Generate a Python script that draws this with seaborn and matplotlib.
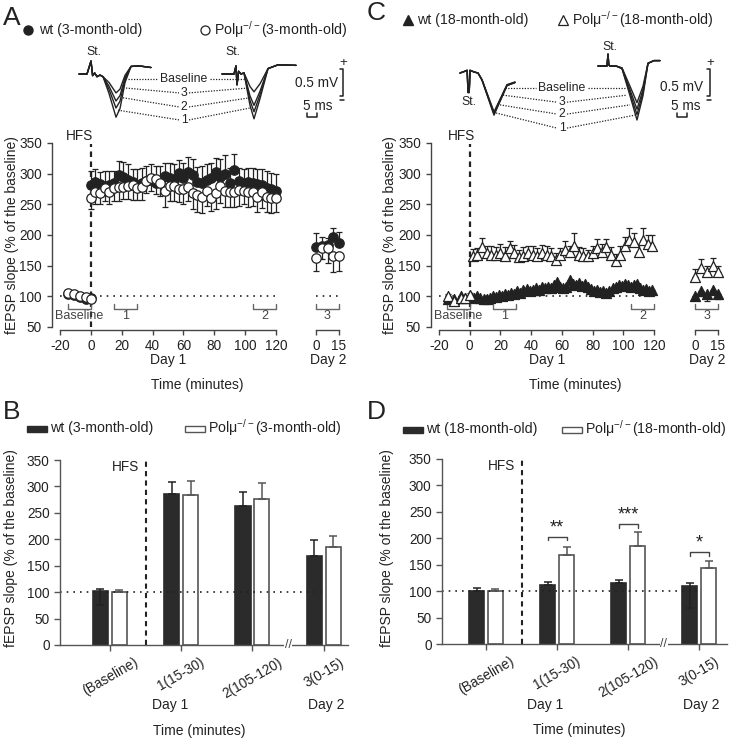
import matplotlib
matplotlib.use('Agg')
import matplotlib.pyplot as plt
import matplotlib.transforms as mtransforms
from matplotlib.patches import Rectangle
import pandas as pd
import seaborn as sns

sns.set_theme(style='ticks')
plt.rcParams['font.family'] = ['Liberation Sans', 'DejaVu Sans']
plt.rcParams['mathtext.fontset'] = 'custom'
plt.rcParams['mathtext.rm'] = 'Liberation Sans'
plt.rcParams['mathtext.default'] = 'regular'
plt.rcParams['axes.unicode_minus'] = False
plt.rcParams['font.size'] = 9.5

INK = '#222222'
GREY = '#555555'

# ---------------- data: panel A (3-month-old time course) ----------------
a_base_t = [-15, -11, -7, -3, 0]
a_wt_base = [103, 102, 99, 95, 97]
a_ko_base = [105, 104, 101, 99, 96]
a_base_err = [3, 3, 3, 3, 3]
a_t = list(range(0, 121, 3))
a_wt = [281, 286, 283, 279, 282, 284, 298, 295, 290, 286,
        281, 284, 288, 290, 285, 287, 296, 293, 289, 301,
        293, 302, 298, 287, 285, 289, 293, 303, 294, 300,
        284, 306, 288, 283, 287, 285, 283, 281, 277, 275, 272]
a_wt_err = [24, 22, 20, 26, 22, 20, 22, 24, 25, 22,
            26, 25, 24, 26, 28, 25, 22, 24, 26, 22,
            24, 25, 26, 24, 28, 26, 24, 22, 30, 30,
            26, 26, 22, 24, 22, 25, 24, 26, 28, 26, 28]
a_ko = [260, 270, 268, 277, 270, 276, 278, 279, 280, 281,
        277, 279, 288, 293, 291, 285, 272, 280, 280, 275,
        275, 278, 268, 265, 262, 271, 261, 268, 280, 271,
        270, 270, 273, 272, 270, 270, 262, 270, 262, 260, 261]
a_ko_err = [18, 20, 18, 22, 20, 20, 22, 20, 22, 24,
            20, 22, 20, 22, 24, 22, 26, 24, 25, 22,
            24, 22, 25, 28, 26, 24, 22, 25, 28, 26,
            24, 24, 25, 22, 24, 22, 24, 26, 25, 24, 24]
a_d2_t = [0, 4, 7.5, 11, 15]
a_d2_wt = [180, 182, 183, 196, 187]
a_d2_wt_err = [23, 14, 12, 16, 18]
a_d2_ko = [163, 179, 179, 165, 165]
a_d2_ko_err = [22, 18, 24, 26, 24]

# ---------------- data: panel C (18-month-old time course) ----------------
c_base_t = [-14, -10, -6, -3, 0]
c_wt_base = [96, 95, 100, 97, 99]
c_ko_base = [101, 93, 98, 97, 102]
c_base_err = [3, 3, 3, 3, 3]
c_ko_t = list(range(2, 120, 3))
c_ko = [165, 168, 180, 170, 168, 168, 170, 166, 178, 170,
        164, 166, 170, 168, 166, 170, 168, 166, 160, 168,
        176, 172, 182, 168, 165, 166, 170, 178, 172, 180,
        168, 157, 168, 182, 192, 188, 172, 192, 185, 182]
c_ko_err = [12, 10, 15, 12, 14, 12, 15, 14, 12, 13,
            12, 14, 12, 14, 12, 13, 14, 12, 11, 10,
            14, 10, 22, 12, 13, 10, 12, 15, 14, 13,
            12, 12, 14, 15, 20, 16, 14, 20, 15, 18]
c_wt_t = list(range(1, 120, 2))
c_wt = [99, 98, 100, 97, 95, 96, 98, 100, 99, 102,
        101, 103, 102, 105, 104, 108, 106, 110, 112, 108,
        110, 113, 111, 115, 113, 116, 114, 118, 124, 116,
        113, 115, 126, 120, 118, 121, 117, 120, 115, 112,
        108, 110, 107, 109, 106, 108, 113, 116, 119, 117,
        120, 118, 115, 118, 120, 114, 110, 112, 108, 111]
c_wt_err = [5, 4, 6, 5, 4, 5, 6, 5, 4, 5,
            6, 5, 4, 6, 5, 7, 5, 6, 5, 6,
            5, 6, 5, 7, 6, 5, 6, 7, 8, 6,
            5, 6, 8, 7, 6, 5, 6, 7, 5, 6,
            5, 6, 5, 4, 5, 6, 5, 7, 6, 5,
            6, 5, 6, 7, 6, 5, 6, 5, 6, 5]
c_d2_t = [0, 4, 8, 12, 15]
c_d2_wt = [101, 108, 103, 111, 104]
c_d2_wt_err = [6, 8, 10, 7, 8]
c_d2_ko = [131, 146, 140, 149, 140]
c_d2_ko_err = [13, 15, 9, 13, 10]

# ---------------- data: panels B and D (bar summaries) ----------------
groups = ['(Baseline)', '1(15-30)', '2(105-120)', '3(0-15)']
b_wt = [102, 286, 263, 169]
b_wt_up = [4, 23, 27, 29]
b_wt_dn = [27, 0, 0, 0]
b_ko = [101, 284, 277, 186]
b_ko_up = [4, 27, 29, 21]
d_wt = [101, 112, 115, 110]
d_wt_up = [5, 6, 6, 6]
d_wt_dn = [0, 0, 0, 41]
d_ko = [100, 168, 186, 143]
d_ko_up = [4, 16, 25, 14]
d_sig = ['', '**', '***', '*']
d_sig_y = [0, 203, 227, 174]

# ---------------- example traces (ms, mV): waypoints + scaled dip ----------------
trA_wt_t = [0, 4, 6, 6.8, 7.8, 9, 10.5, 12, 15, 18.5, 20.5, 23, 26, 30, 36]
trA_wt_base = [0, 0, 0.24, -0.03, 0.02, -0.05, -0.02, -0.05, 0, 0, 0, 0.08, 0.14, 0.15, 0.12]
trA_wt_dip = [0, 0, 0, 0, 0, 0, 0, 0, -0.45, -1.0, -0.8, -0.3, 0, 0, 0]
trA_wt_depth = [0.35, 0.5, 0.63, 0.8]
trA_ko_t = [0, 6, 7, 7.5, 8.3, 9.5, 11, 14, 16, 19, 23, 28, 37]
trA_ko_base = [0, 0, 0.15, -0.2, 0.05, 0, 0.02, 0, 0, 0, 0.1, 0.17, 0.16]
trA_ko_dip = [0, 0, 0, 0, 0, 0, 0, -0.7, -1.0, -0.55, 0, 0, 0]
trA_ko_depth = [0.33, 0.58, 0.7, 0.83]
trC_wt_t = [0, 3, 3.6, 4.0, 4.6, 5.0, 7, 9, 11, 17, 23.5, 27.5]
trC_wt_base = [0, 0.04, 0.05, -0.36, -0.36, 0.05, 0.02, 0, 0, 0, 0, 0]
trC_wt_dip = [0, 0, 0, 0, 0, 0, 0, 0, -0.17, -1.0, -0.3, -0.23]
trC_wt_depth = [0.72, 0.74, 0.76, 0.78]
trC_ko_t = [0, 4.5, 5, 5.4, 6, 9, 12, 16, 19.5, 22.5, 25, 28, 31]
trC_ko_base = [0, 0, 0.22, 0.02, 0, 0, 0, 0, 0, 0, 0.05, 0.1, 0.1]
trC_ko_dip = [0, 0, 0, 0, 0, 0, -0.05, -0.55, -1.0, -0.55, 0, 0, 0]
trC_ko_depth = [0.68, 0.8, 0.9, 1.0]
trace_names = ['Baseline', '3', '2', '1']

W, H = 729, 743
fig = plt.figure(figsize=(W / 100, H / 100), dpi=100)


def rect(l, t, r, b):
    return [l / W, 1 - b / H, (r - l) / W, (b - t) / H]


def style_tc(ax, day2=False):
    ax.set_ylim(50, 350)
    ax.set_facecolor('none')
    for s in ['top', 'right']:
        ax.spines[s].set_visible(False)
    ax.spines['bottom'].set_position(('outward', 2))
    if day2:
        ax.set_xlim(0, 15)
        ax.set_xticks([0, 15])
        ax.spines['left'].set_visible(False)
        ax.set_yticks([])
    else:
        ax.set_xlim(-20, 120)
        ax.set_xticks(range(-20, 121, 20))
        ax.set_yticks(range(50, 351, 50))
        ax.spines['left'].set_position(('outward', 6))
    for s in ['left', 'bottom']:
        ax.spines[s].set_color('#444')
        ax.spines[s].set_linewidth(1)
    ax.tick_params(labelsize=9.8, colors='#444', labelcolor=INK, length=3.5, width=1)


def series(ax, t, y, err, up, marker, filled, z):
    zeros = [0] * len(err)
    yerr = [zeros, err] if up else [err, zeros]
    ax.errorbar(t, y, yerr=yerr, fmt='none', ecolor=INK, elinewidth=0.9,
                capsize=2.5, capthick=0.9, zorder=z, clip_on=False)
    sns.scatterplot(x=t, y=y, marker=marker, s=46 if marker == 'o' else 52,
                    color=INK if filled else 'white', edgecolor=INK,
                    linewidth=0.9, ax=ax, zorder=z + 1, clip_on=False)


def bracket(ax, x1, x2, label, y=80):
    ax.plot([x1, x1, x2, x2], [y + 8, y, y, y + 8], color='#666', lw=1, clip_on=False)
    ax.text((x1 + x2) / 2, y - 12, label, ha='center', va='center', fontsize=9, color='#444')


def time_course(ax, ax2, wt_t, wt, wt_err, ko_t, ko, ko_err, d2_t, d2_wt, d2_wt_err,
                d2_ko, d2_ko_err, mk, wt_up, hfs_x):
    style_tc(ax)
    style_tc(ax2, day2=True)
    ax.plot([-20, 120], [100, 100], ls=(0, (1, 3)), color=INK, lw=1.2, zorder=1)
    ax2.plot([0, 15], [100, 100], ls=(0, (1, 3)), color=INK, lw=1.2, zorder=1)
    ax.plot([0, 0], [50, 349], ls=(0, (2.5, 2)), color=INK, lw=1.6, zorder=1)
    ax.text(hfs_x, 361, 'HFS', ha='center', va='center', fontsize=9.8, color=INK)
    series(ax, wt_t, wt, wt_err, wt_up, mk, True, 3)
    series(ax, ko_t, ko, ko_err, not wt_up, mk, False, 5)
    series(ax2, d2_t, d2_wt, d2_wt_err, wt_up, mk, True, 3)
    series(ax2, d2_t, d2_ko, d2_ko_err, not wt_up, mk, False, 5)
    bracket(ax, -15, 0, 'Baseline')
    bracket(ax, 15, 30, '1')
    bracket(ax, 105, 120, '2')
    bracket(ax2, 0, 15, '3')


axA = fig.add_axes(rect(60, 143, 276, 327))
axA2 = fig.add_axes(rect(316, 143, 339, 327))
time_course(axA, axA2, a_base_t + a_t, a_wt_base + a_wt, a_base_err + a_wt_err,
            a_base_t + a_t, a_ko_base + a_ko, a_base_err + a_ko_err,
            a_d2_t, a_d2_wt, a_d2_wt_err, a_d2_ko, a_d2_ko_err, 'o', True, -7.5)

axC = fig.add_axes(rect(439, 143, 654, 327))
axC2 = fig.add_axes(rect(695, 143, 718, 327))
time_course(axC, axC2, c_base_t + c_wt_t, c_wt_base + c_wt, c_base_err + c_wt_err,
            c_base_t + c_ko_t, c_ko_base + c_ko, c_base_err + c_ko_err,
            c_d2_t, c_d2_wt, c_d2_wt_err, c_d2_ko, c_d2_ko_err, '^', False, -5.5)


def bar_panel(ax, wt, wt_up, wt_dn, ko, ko_up, xlim, sig=None, sig_y=None):
    df = pd.DataFrame({'group': groups * 2,
                       'geno': ['wt'] * len(groups) + ['ko'] * len(groups),
                       'value': wt + ko})
    sns.barplot(data=df, x='group', y='value', hue='geno',
                palette={'wt': '#2b2b2b', 'ko': 'white'}, width=0.53, gap=0.2,
                edgecolor=GREY, linewidth=1.2, errorbar=None, legend=False, ax=ax)
    for p in ax.containers[0]:
        p.set_edgecolor('#2b2b2b')
    xw = [p.get_x() + p.get_width() / 2 for p in ax.containers[0]]
    xk = [p.get_x() + p.get_width() / 2 for p in ax.containers[1]]
    ax.errorbar(xw, wt, yerr=[wt_dn, wt_up], fmt='none', ecolor=INK, elinewidth=1.1,
                capsize=3, capthick=1.1, zorder=3)
    ax.errorbar(xk, ko, yerr=[[0] * len(ko), ko_up], fmt='none', ecolor=GREY,
                elinewidth=1.1, capsize=3, capthick=1.1, zorder=3)
    ax.set_xlim(*xlim)
    ax.set_ylim(0, 350)
    ax.set_yticks(range(0, 351, 50))
    ax.set_xlabel('')
    ax.set_ylabel('')
    ax.set_facecolor('none')
    for s in ['top', 'right']:
        ax.spines[s].set_visible(False)
    for s in ['left', 'bottom']:
        ax.spines[s].set_color('#555')
        ax.spines[s].set_linewidth(1)
    ax.tick_params(labelsize=9.8, colors='#555', labelcolor=INK, length=4, width=1)
    plt.setp(ax.get_xticklabels(), rotation=30, ha='center')
    ax.plot([xlim[0], 3.02], [100, 100], ls=(0, (1, 3)), color=INK, lw=1.2, zorder=1)
    ax.axvline(0.5, ymin=0, ymax=1, ls=(0, (2.5, 2)), color=INK, lw=1.5, zorder=1)
    ax.text(0.22, 336, 'HFS', ha='center', va='center', fontsize=9.8, color=INK)
    tr = mtransforms.blended_transform_factory(ax.transData, ax.transAxes)
    ax.text(2.5, 0, '//', transform=tr, ha='center', va='center', fontsize=9, color='#444',
            bbox=dict(fc='white', ec='none', pad=0.3), clip_on=False)
    if sig:
        for i, s in enumerate(sig):
            if not s:
                continue
            y = sig_y[i]
            ax.plot([xw[i], xw[i], xk[i], xk[i]], [y - 7, y, y, y - 7], color='#444', lw=1)
            ax.text((xw[i] + xk[i]) / 2, y + 1, s, ha='center', va='bottom', fontsize=13, color=INK)


axB = fig.add_axes(rect(60, 460, 348, 645))
bar_panel(axB, b_wt, b_wt_up, b_wt_dn, b_ko, b_ko_up, (-0.70, 3.34))
axD = fig.add_axes(rect(442, 459, 727, 644))
bar_panel(axD, d_wt, d_wt_up, d_wt_dn, d_ko, d_ko_up, (-0.62, 3.39), d_sig, d_sig_y)


# ---------------- example traces ----------------
def draw_traces(ax, t0, rel_t, base, dip, depths, v0=0.0):
    for d in depths:
        ax.plot([t0 + t for t in rel_t], [v0 + b + d * q for b, q in zip(base, dip)],
                color=INK, lw=1.0, solid_joinstyle='round')


def connectors(ax, left_pts, right_pts, label_t, label_v, half_w):
    for (lt, lv), (rt, rv), v, name, hw in zip(left_pts, right_pts, label_v, trace_names, half_w):
        ax.plot([lt, label_t - hw], [lv, v], ls=(0, (1, 1.2)), color=INK, lw=0.9)
        ax.plot([label_t + hw, rt], [v, rv], ls=(0, (1, 1.2)), color=INK, lw=0.9)
        ax.text(label_t, v, name, ha='center', va='center', fontsize=8.8, color=INK)


def scale(ax, x, top, ms_t, ms_v, txt_t, txt_v, ms_txt_t):
    ax.plot([x - 1.5, x, x, x - 1.5], [top, top, top - 0.5, top - 0.5], color=INK, lw=1.1)
    ax.text(x, top + 0.0, '+', ha='center', va='bottom', fontsize=9.5, color=INK)
    ax.plot([x - 1.5, x + 0.5], [top - 0.58, top - 0.58], color=INK, lw=1.1)
    ax.text(txt_t, txt_v, '0.5 mV', ha='right', va='center', fontsize=9.8, color=INK)
    ax.plot([ms_t, ms_t, ms_t + 5, ms_t + 5], [ms_v + 0.07, ms_v, ms_v, ms_v + 0.07], color=INK, lw=1.1)
    ax.text(ms_txt_t, ms_v + 0.2, '5 ms', ha='center', va='center', fontsize=9.8, color=INK)


hA = fig.add_axes(rect(75, 40, 355, 130))
hA.set_xlim(0, 140)
hA.set_ylim(-56 / 54, 34 / 54)
hA.axis('off')
draw_traces(hA, 2, trA_wt_t, trA_wt_base, trA_wt_dip, trA_wt_depth)
draw_traces(hA, 73.5, trA_ko_t, trA_ko_base, trA_ko_dip, trA_ko_depth)
connectors(hA, [(26.5, -0.09), (25.5, -0.26), (24, -0.44), (21.5, -0.67)],
           [(85, -0.09), (86.5, -0.26), (87.5, -0.44), (87.5, -0.63)],
           54.5, [-0.09, -0.35, -0.61, -0.85], [13, 2.5, 2.5, 2.5])
hA.text(9.5, 0.41, 'St.', ha='center', va='center', fontsize=8.8, color=INK)
hA.text(79, 0.41, 'St.', ha='center', va='center', fontsize=8.8, color=INK)
scale(hA, 134, 0.1, 116, -0.8, 131.5, -0.17, 121.5)

hC = fig.add_axes(rect(440, 40, 729, 135))
hC.set_xlim(0, 144.5)
hC.set_ylim(-69 / 54, 26 / 54)
hC.axis('off')
draw_traces(hC, 10, trC_wt_t, trC_wt_base, trC_wt_dip, trC_wt_depth, v0=-0.13)
draw_traces(hC, 79, trC_ko_t, trC_ko_base, trC_ko_dip, trC_ko_depth)
connectors(hC, [(32.5, -0.41), (31.5, -0.54), (30, -0.72), (28, -0.87)],
           [(92.5, -0.41), (93.5, -0.54), (95, -0.72), (97.5, -0.91)],
           61, [-0.41, -0.67, -0.89, -1.15], [13, 2.5, 2.5, 2.5])
hC.text(14.5, -0.67, 'St.', ha='center', va='center', fontsize=8.8, color=INK)
hC.text(85, 0.35, 'St.', ha='center', va='center', fontsize=8.8, color=INK)
scale(hC, 135, -0.05, 118.5, -0.94, 131.5, -0.39, 123)

# ---------------- overlay: panel letters, legends, axis titles ----------------
ov = fig.add_axes([0, 0, 1, 1])
ov.set_xlim(0, W)
ov.set_ylim(H, 0)
ov.axis('off')


def ko_lbl(age):
    return 'Pol\u03bc$^{-/-}$(' + age + ')'


for x, y, letter in [(3, 18, 'A'), (367, 13, 'C'), (3, 412, 'B'), (367, 412, 'D')]:
    ov.text(x, y, letter, fontsize=19, va='center', ha='left', color=INK)

ov.plot(28, 30, 'o', ms=6.5, color=INK)
ov.text(39, 30, 'wt (3-month-old)', fontsize=10.2, va='center', color=INK)
ov.plot(205, 30, 'o', ms=6.5, mfc='white', mec=INK, mew=0.9)
ov.text(214, 30, ko_lbl('3-month-old'), fontsize=10.2, va='center', color=INK)
ov.plot(408, 20, '^', ms=6.5, color=INK)
ov.text(417, 20, 'wt (18-month-old)', fontsize=10.2, va='center', color=INK)
ov.plot(563, 20, '^', ms=6.5, mfc='white', mec=INK, mew=0.9)
ov.text(572, 20, ko_lbl('18-month-old'), fontsize=10.2, va='center', color=INK)

for x0, y0, x1, age in [(27, 426, 185, '3-month-old'), (403, 427, 562, '18-month-old')]:
    ov.add_patch(Rectangle((x0, y0), 20, 6, fc='#2b2b2b', ec='#2b2b2b', lw=1))
    ov.text(x0 + 23, y0 + 2, 'wt (' + age + ')', fontsize=10.2, va='center', color=INK)
    ov.add_patch(Rectangle((x1, y0), 20, 6, fc='white', ec=GREY, lw=1))
    ov.text(x1 + 23, y0 + 2, ko_lbl(age), fontsize=10.2, va='center', color=INK)

ylab = 'fEPSP slope (% of the baseline)'
for x, y in [(12, 235), (390, 235), (11, 548), (387, 548)]:
    ov.text(x, y, ylab, rotation=90, ha='center', va='center', fontsize=10, color=INK)

for x, y, s in [(168, 360, 'Day 1'), (328, 360, 'Day 2'), (197, 385, 'Time (minutes)'),
                (547, 360, 'Day 1'), (707, 360, 'Day 2'), (575, 385, 'Time (minutes)'),
                (170, 705, 'Day 1'), (326, 705, 'Day 2'), (199, 731, 'Time (minutes)'),
                (545, 705, 'Day 1'), (701, 705, 'Day 2'), (579, 730, 'Time (minutes)')]:
    ov.text(x, y, s, ha='center', va='center', fontsize=10, color=INK)

fig.savefig('out.png', dpi=100)
